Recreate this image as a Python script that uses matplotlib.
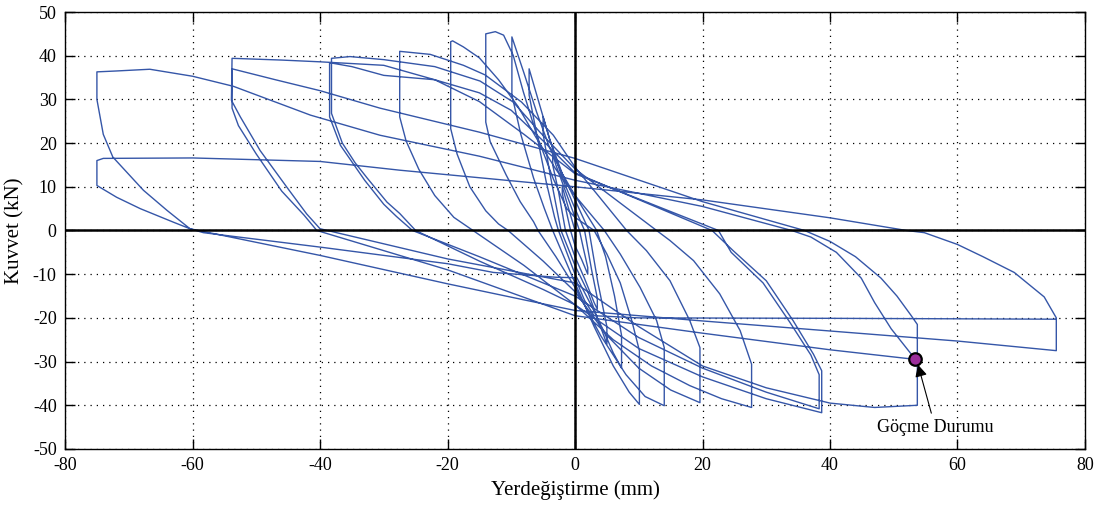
import numpy as np
import matplotlib
matplotlib.use('Agg')
import matplotlib.pyplot as plt

plt.rcParams['font.family'] = ['Liberation Serif', 'DejaVu Serif']
plt.rcParams['axes.unicode_minus'] = False

# traced hysteresis loops (displacement mm, force kN), in test order
loop_01 = [(0, 0), (-1, 5), (-2, 10), (-2, 8.5), (-1.3, 4), (-0.7, 0),
           (0, -3.5), (1, -6.5), (2, -10), (2, -8.5), (1.3, -4), (0.7, 0)]
loop_02 = [(0, 3), (-1.5, 9), (-3, 15), (-3.5, 17.5), (-3.5, 15), (-2.6, 9), (-1.5, 0),
           (0, -6), (1.5, -11), (3, -16.5), (3.5, -18), (3.5, -15.5), (2.6, -9), (1.5, 0)]
loop_03 = [(0, 5), (-2, 12), (-4, 21), (-5, 26), (-5, 22), (-3.8, 12), (-2.2, 0),
           (0, -8), (2, -14), (4, -22), (5, -26), (5, -22), (3.6, -12), (2.2, 0)]
loop_04 = [(0, 7), (-2, 13), (-4, 21), (-6, 31), (-7.2, 37), (-7.2, 31), (-6, 22),
           (-4.5, 11), (-3.2, 3), (-2.6, 0),
           (0, -10), (2.5, -17), (4.5, -23), (6, -28), (7.3, -31.5), (7.3, -24),
           (6.2, -15), (4.8, -6), (3.4, 0)]
loop_05 = [(0, 8), (-2, 13), (-4, 19), (-6, 27), (-8, 36), (-9.9, 44.3), (-9.9, 31),
           (-8.5, 22), (-6.5, 12), (-4.8, 5), (-3.5, 0),
           (0, -12), (3, -22), (6, -31), (8.5, -37), (10.1, -39.8), (10.1, -27.5),
           (8.9, -20.6), (7.1, -12), (5, -5.4), (3, 0)]
loop_06 = [(0, 3), (-1.3, 5), (-3.4, 11.8), (-6, 21.8), (-8.1, 31.7), (-9.7, 40.1),
           (-11.2, 44.7), (-12.5, 45.5), (-14, 45), (-14, 24.8), (-13.3, 20.3),
           (-10.8, 12.7), (-8.6, 6.6), (-6.5, 2), (-5.8, 0),
           (-3, -6), (0, -13), (4, -24), (8, -33), (11, -38), (14, -40.1), (14, -26.8),
           (12.8, -20.6), (10.2, -13), (7.1, -5.4), (4.6, 0)]
loop_07 = [(0, 8), (-3, 14), (-6, 21), (-9, 28.5), (-12, 34.5), (-15, 39.5), (-17.5, 42),
           (-19.2, 43.4), (-19.5, 43.2), (-19.5, 23.3), (-18.5, 17.5), (-16.5, 10),
           (-14, 4.5), (-12, 1.5), (-10.5, 0),
           (-5, -7), (0, -14), (5, -24), (10, -31.5), (15, -36.5), (19.6, -39.4),
           (19.6, -26.8), (18, -20.6), (14.9, -11.5), (11.2, -4.6), (8.1, 0)]
loop_08 = [(0, 14.5), (-3.4, 21.8), (-8.4, 29.4), (-14.1, 35.6), (-17.5, 37.8),
           (-22.7, 40.3), (-27.5, 41), (-27.5, 26), (-26.5, 20.5), (-24.5, 14),
           (-22, 8), (-19, 3), (-16, 0),
           (-8, -8), (0, -17), (6, -25), (12, -31), (18, -35.5), (23, -38.5),
           (27.7, -40.5), (27.7, -30.6), (25.9, -22.9), (22.7, -14.5), (18.6, -6.9),
           (14.9, -2.3), (12.8, 0)]
loop_09 = [(0, 14.1), (-5.5, 22.5), (-9.7, 29.4), (-14.9, 34.2), (-22, 37.5), (-30, 39.1),
           (-35.3, 39.8), (-38.2, 39.4), (-38.2, 26.8), (-36.5, 20), (-34.5, 15.5),
           (-32.6, 12), (-29.5, 6.5), (-27.5, 3.9), (-25, 0),
           (-15, -7), (-5, -13.5), (0, -17), (10, -27), (20, -33.5), (30, -38.5),
           (38.7, -41.7), (38.7, -32.1), (37.4, -28.3), (34.2, -20.6), (30, -11.5),
           (24.8, -4.6), (21.5, 0)]
loop_10 = [(0, 13.2), (-5, 20.5), (-10, 27.5), (-15, 31.5), (-22, 34.5), (-30, 35.5),
           (-35, 37.5), (-38.5, 38.4), (-38.5, 26), (-36.8, 19.5), (-33, 11.5),
           (-30, 6), (-28, 3.2), (-25.5, 0),
           (-15, -6), (-5, -12), (0, -15), (10, -24.5), (20, -31.5), (30, -37),
           (38.3, -40.8), (38.3, -33), (37, -28.5), (33.7, -21), (29.5, -12),
           (24.5, -5), (22.5, 0)]
loop_11 = [(0, 13), (-8, 22), (-15, 29.5), (-22, 34.5), (-30, 37.8), (-40, 38.6),
           (-46, 39), (-53.8, 39.4), (-53.9, 29.8), (-52.5, 26), (-49.4, 18.3),
           (-45.2, 9.9), (-42.1, 3.8), (-40, 0.4),
           (-20, -6.5), (0, -12), (10, -22), (20, -31), (30, -36), (40, -39.5),
           (47, -40.5), (53.7, -40), (53.7, -21.5), (52.7, -19.4), (50.5, -15),
           (48, -10.9), (44, -6), (40, -2.5), (36, 0)]
loop_12 = [(20, 6.6), (0, 16.5), (-15, 22.5), (-30.6, 28), (-40, 32), (-47, 34.5),
           (-53.8, 37), (-53.8, 28), (-52.8, 24), (-50, 17.5), (-46, 9), (-42.5, 3.5),
           (-40.5, 0),
           (-20, -9), (0, -19.5), (20, -23.5), (40, -27.3), (53.4, -29.5),
           (51.5, -26), (49.6, -22.5), (47, -16.5), (44.9, -10.9), (41, -5),
           (37, -1.5), (34, 0)]
loop_13 = [(20, 5.5), (0, 11.5), (-15, 17), (-30.6, 21.8), (-41.5, 26.4), (-53.6, 33),
           (-60, 35.3), (-66.7, 36.9), (-72, 36.5), (-75, 36.3), (-75, 30), (-74, 22),
           (-72.5, 16.8), (-67.7, 9.2), (-64, 4.6), (-60.4, 0.4),
           (-40, -5.7), (-20, -12.2), (-7.6, -16), (0, -18.3), (20, -20.7), (40, -23),
           (60, -25.3), (75.5, -27.5), (75.5, -20), (75.1, -19), (73.6, -15.2),
           (68.9, -9.6), (64, -6), (60, -3.2), (54.8, -0.5), (52, 0)]
loop_14 = [(40, 2.9), (20, 7), (0, 10), (-27.5, 13.8), (-40, 15.8), (-60, 16.6),
           (-74, 16.5), (-75, 16), (-75, 10.3), (-71.9, 7.6), (-68.2, 5), (-63, 1.9),
           (-60.4, 0.4),
           (-58.3, -0.5), (-40, -3.8), (-20, -7.6), (-12.8, -9.6), (-3, -10.7),
           (0, -10.8), (1.5, -16), (3, -19.5), (10, -20), (40, -20.1), (75.5, -20.3)]

loops = [loop_01, loop_02, loop_03, loop_04, loop_05, loop_06, loop_07,
         loop_08, loop_09, loop_10, loop_11, loop_12, loop_13, loop_14]

collapse_x = 53.4
collapse_y = -29.5

path = np.array([p for lp in loops for p in lp])

fig = plt.figure(figsize=(11.06, 5.13), dpi=100)
ax = fig.add_axes([0.0588, 0.1248, 0.9222, 0.8518])

ax.plot(path[:, 0], path[:, 1], color='#3556a8', lw=1.0, zorder=2,
        solid_joinstyle='round')

ax.axhline(0, color='black', lw=1.8, zorder=3)
ax.axvline(0, color='black', lw=1.8, zorder=3)

ax.plot(collapse_x, collapse_y, 'o', ms=9, mfc='#9b2d9b', mec='black', mew=1.6, zorder=5)
ax.annotate('Göçme Durumu', xy=(collapse_x + 0.4, collapse_y - 1.2),
            xytext=(56.5, -45), ha='center', va='center', fontsize=13,
            arrowprops=dict(arrowstyle='-|>', color='black', lw=0.8,
                            mutation_scale=18, shrinkA=2, shrinkB=0),
            zorder=6)

ax.set_xlim(-80, 80)
ax.set_ylim(-50, 50)
ax.set_xticks(np.arange(-80, 81, 20))
ax.set_yticks(np.arange(-50, 51, 10))
ax.grid(True, color='black', linestyle=(0, (1, 4)), lw=0.9)
ax.tick_params(direction='in', top=True, right=True, length=7, width=1,
               labelsize=13, pad=6)
for s in ax.spines.values():
    s.set_linewidth(1.0)

ax.set_xlabel('Yerdeğiştirme (mm)', fontsize=15, labelpad=4)
ax.set_ylabel('Kuvvet (kN)', fontsize=15, labelpad=6)

fig.savefig('out.png', dpi=100)
